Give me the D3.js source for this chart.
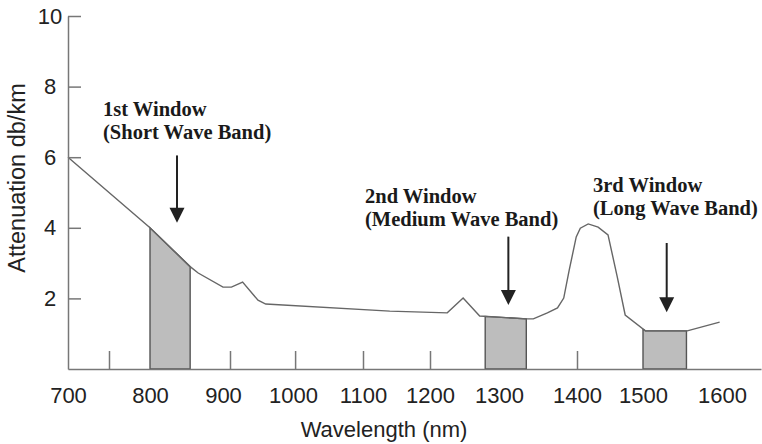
<html>
<head>
  <script src="https://d3js.org/d3.v7.min.js"></script>
  <style>
    body { margin: 0; background: #fff; }
  </style>
</head>
<body>
  <div id="chart-container"></div>
  <script>
    // attenuation curve (wavelength nm, db/km)
    const wavelength = [700, 800, 855, 866, 900, 912, 928, 950, 961, 1140, 1225, 1248, 1272, 1335, 1344,
      1362, 1375, 1383, 1390, 1399, 1405, 1417, 1432, 1447, 1461, 1473, 1503, 1556, 1597];
    const attenuation = [6.0, 4.0, 2.9, 2.72, 2.32, 2.32, 2.46, 1.95, 1.84, 1.64, 1.59, 2.01, 1.50, 1.42, 1.42,
      1.59, 1.73, 2.01, 2.80, 3.74, 3.99, 4.11, 4.02, 3.80, 2.61, 1.53, 1.08, 1.08, 1.33];

    // the three transmission windows
    const windowStart = [800, 1280, 1500];
    const windowEnd = [855, 1335, 1555];
    const windowTitle = ["1st Window", "2nd Window", "3rd Window"];
    const windowBand = ["(Short Wave Band)", "(Medium Wave Band)", "(Long Wave Band)"];
    const arrowX = [837, 1312, 1530];
    const arrowTop = [6.05, 3.75, 3.57];
    const arrowTip = [4.14, 1.81, 1.61];

    const xLabels = [700, 800, 900, 1000, 1100, 1200, 1300, 1400, 1500, 1600];
    const xMarks = [750, 910, 1003, 1100, 1200, 1400];
    const yTicks = [2, 4, 6, 8, 10];

    const W = 762, H = 444;
    // the printed axis is not evenly spaced, so the scale is piecewise
    const xStops = [68, 150, 223, 293, 363, 430, 499, 577, 643, 722, 761];
    const x = d3.scaleLinear().domain([...xLabels, 1650]).range(xStops);
    const y = d3.scaleLinear().domain([0, 10]).range([369, 16]);

    const svg = d3.select("#chart-container").append("svg")
      .attr("width", W).attr("height", H);

    const pts = wavelength.map((w, i) => [w, attenuation[i]]);
    function att(w) {
      for (let i = 1; i < pts.length; i++) {
        if (w <= pts[i][0]) {
          const t = (w - pts[i - 1][0]) / (pts[i][0] - pts[i - 1][0]);
          return pts[i - 1][1] + t * (pts[i][1] - pts[i - 1][1]);
        }
      }
      return pts[pts.length - 1][1];
    }

    // shaded windows
    windowStart.forEach((s, i) => {
      const e = windowEnd[i];
      const seg = [[s, att(s)], ...pts.filter(p => p[0] > s && p[0] < e), [e, att(e)]];
      const poly = [[s, 0], ...seg, [e, 0]];
      svg.append("path")
        .attr("d", d3.line().x(d => x(d[0])).y(d => y(d[1]))(poly) + "Z")
        .attr("fill", "#bdbdbd")
        .attr("stroke", "#555")
        .attr("stroke-width", 1.4);
    });

    // curve
    svg.append("path")
      .datum(pts)
      .attr("d", d3.line().x(d => x(d[0])).y(d => y(d[1])))
      .attr("fill", "none")
      .attr("stroke", "#666")
      .attr("stroke-width", 1.4);

    // x axis: labels below, short marks pointing up
    const gx = svg.append("g")
      .attr("transform", `translate(0, ${y(0)})`)
      .call(d3.axisBottom(x).tickValues(xLabels).tickFormat(d3.format("d")).tickSize(0).tickPadding(18));
    gx.selectAll("text")
      .style("font-family", "'Liberation Sans', Arial, sans-serif")
      .style("font-size", "22px")
      .attr("fill", "#222");

    const gm = svg.append("g")
      .attr("transform", `translate(0, ${y(0)})`)
      .call(d3.axisTop(x).tickValues(xMarks).tickSize(18).tickFormat(""));
    gm.select(".domain").remove();

    // y axis: ticks point right, labels centred
    const gy = svg.append("g")
      .attr("transform", `translate(${x(700)}, 0)`)
      .call(d3.axisLeft(y).tickValues(yTicks).tickSizeInner(-13).tickSizeOuter(0).tickPadding(0));
    gy.selectAll("text")
      .attr("x", -18)
      .style("text-anchor", "middle")
      .style("font-family", "'Liberation Sans', Arial, sans-serif")
      .style("font-size", "22px")
      .attr("fill", "#222");

    svg.selectAll(".domain, .tick line")
      .attr("stroke", "#777")
      .attr("stroke-width", 1.5);

    // axis titles
    svg.append("text")
      .attr("x", 384).attr("y", 437)
      .attr("text-anchor", "middle")
      .style("font-family", "'Liberation Sans', Arial, sans-serif")
      .style("font-size", "22px")
      .attr("fill", "#222")
      .text("Wavelength (nm)");

    svg.append("text")
      .attr("transform", "translate(25, 178) rotate(-90)")
      .attr("text-anchor", "middle")
      .style("font-family", "'Liberation Sans', Arial, sans-serif")
      .style("font-size", "23.5px")
      .attr("fill", "#222")
      .text("Attenuation db/km");

    // arrows
    arrowX.forEach((ax, i) => {
      const px = x(ax), top = y(arrowTop[i]), tip = y(arrowTip[i]);
      svg.append("line")
        .attr("x1", px).attr("x2", px)
        .attr("y1", top).attr("y2", tip - 12)
        .attr("stroke", "#222").attr("stroke-width", 2);
      svg.append("path")
        .attr("d", `M${px - 7.5},${tip - 15} L${px + 7.5},${tip - 15} L${px},${tip} Z`)
        .attr("fill", "#222");
    });

    // window labels
    const labelPos = [[103, 116], [365, 203], [593, 192]];
    windowTitle.forEach((t, i) => {
      const g = svg.append("text")
        .style("font-family", "'Liberation Serif', 'Times New Roman', serif")
        .style("font-weight", "bold")
        .style("font-size", "20.5px")
        .attr("fill", "#1a1a1a");
      g.append("tspan").attr("x", labelPos[i][0]).attr("y", labelPos[i][1]).text(t);
      g.append("tspan").attr("x", labelPos[i][0]).attr("y", labelPos[i][1] + 23).text(windowBand[i]);
    });
  </script>
</body>
</html>
